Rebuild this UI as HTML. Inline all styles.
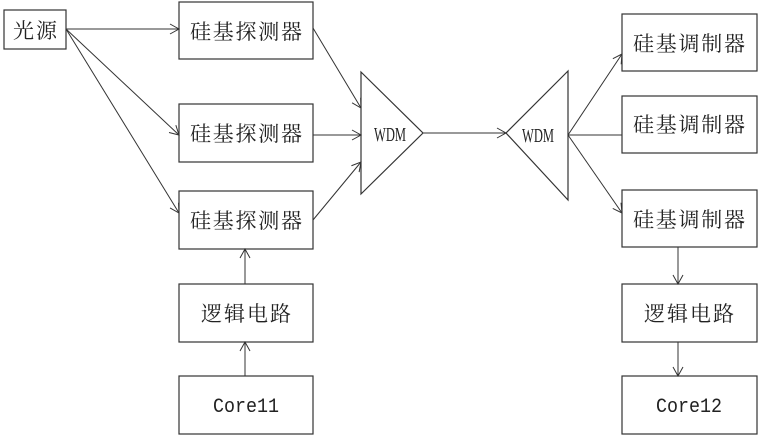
<!DOCTYPE html>
<html><head><meta charset="utf-8"><style>
body{margin:0;background:#fff}
svg text{fill:#222}
</style></head><body>
<svg width="759" height="435" viewBox="0 0 759 435" xmlns="http://www.w3.org/2000/svg">
<defs><marker id="a" markerWidth="12" markerHeight="12" refX="10" refY="6" orient="auto" markerUnits="userSpaceOnUse"><path d="M1,1 L10,6 L1,11" fill="none" stroke="#333" stroke-width="1"/></marker></defs>
<g fill="none" stroke="#333" stroke-width="1.2">
<rect x="4" y="10" width="62" height="39"/>
<rect x="179" y="2" width="134" height="57"/>
<rect x="179" y="104" width="134" height="58"/>
<rect x="179" y="191" width="134" height="58"/>
<rect x="179" y="284" width="134" height="58"/>
<rect x="179" y="376" width="134" height="58"/>
<rect x="622" y="14" width="135" height="57"/>
<rect x="622" y="96" width="135" height="57"/>
<rect x="622" y="190" width="135" height="57"/>
<rect x="622" y="284" width="135" height="58"/>
<rect x="622" y="376" width="135" height="58"/>
<path d="M361,72 L423,133 L361,194 Z"/>
<path d="M568,71 L506,133 L568,200 Z"/>
</g>
<g stroke="#333" stroke-width="1" marker-end="url(#a)">
<line x1="66" y1="29" x2="179" y2="29"/>
<line x1="66" y1="29" x2="179" y2="135"/>
<line x1="66" y1="29" x2="179" y2="213"/>
<line x1="313" y1="28" x2="361" y2="108"/>
<line x1="313" y1="135" x2="361" y2="135"/>
<line x1="313" y1="220" x2="361" y2="162"/>
<line x1="423" y1="133" x2="506" y2="133"/>
<line x1="568" y1="135" x2="622" y2="54"/>
<line x1="568" y1="135" x2="622" y2="213"/>
<line x1="245" y1="284" x2="245" y2="249"/>
<line x1="245" y1="376" x2="245" y2="342"/>
<line x1="678" y1="247" x2="678" y2="284"/>
<line x1="678" y1="342" x2="678" y2="376"/>
</g>
<line x1="568" y1="135" x2="622" y2="135" stroke="#333" stroke-width="1"/>
<g font-size="21" text-anchor="middle" style="font-family:'Noto Serif CJK SC','Liberation Serif',serif">
<text x="35" y="38" textLength="44">光源</text>
<text x="246" y="39" textLength="112">硅基探测器</text>
<text x="246" y="141" textLength="112">硅基探测器</text>
<text x="246" y="228" textLength="112">硅基探测器</text>
<text x="246" y="321" textLength="90">逻辑电路</text>
<text x="689" y="51" textLength="112">硅基调制器</text>
<text x="689" y="132" textLength="112">硅基调制器</text>
<text x="689" y="227" textLength="112">硅基调制器</text>
<text x="689" y="321" textLength="90">逻辑电路</text>
</g>
<g font-size="20" text-anchor="middle" style="font-family:'Liberation Mono',monospace">
<text x="246" y="412" textLength="66" lengthAdjust="spacingAndGlyphs">Core11</text>
<text x="689" y="412" textLength="66" lengthAdjust="spacingAndGlyphs">Core12</text>
</g>
<g font-size="20" text-anchor="middle" style="font-family:'Liberation Serif',serif">
<text x="390" y="141" textLength="32" lengthAdjust="spacingAndGlyphs">WDM</text>
<text x="538" y="142" textLength="32" lengthAdjust="spacingAndGlyphs">WDM</text>
</g>
</svg>
</body></html>
